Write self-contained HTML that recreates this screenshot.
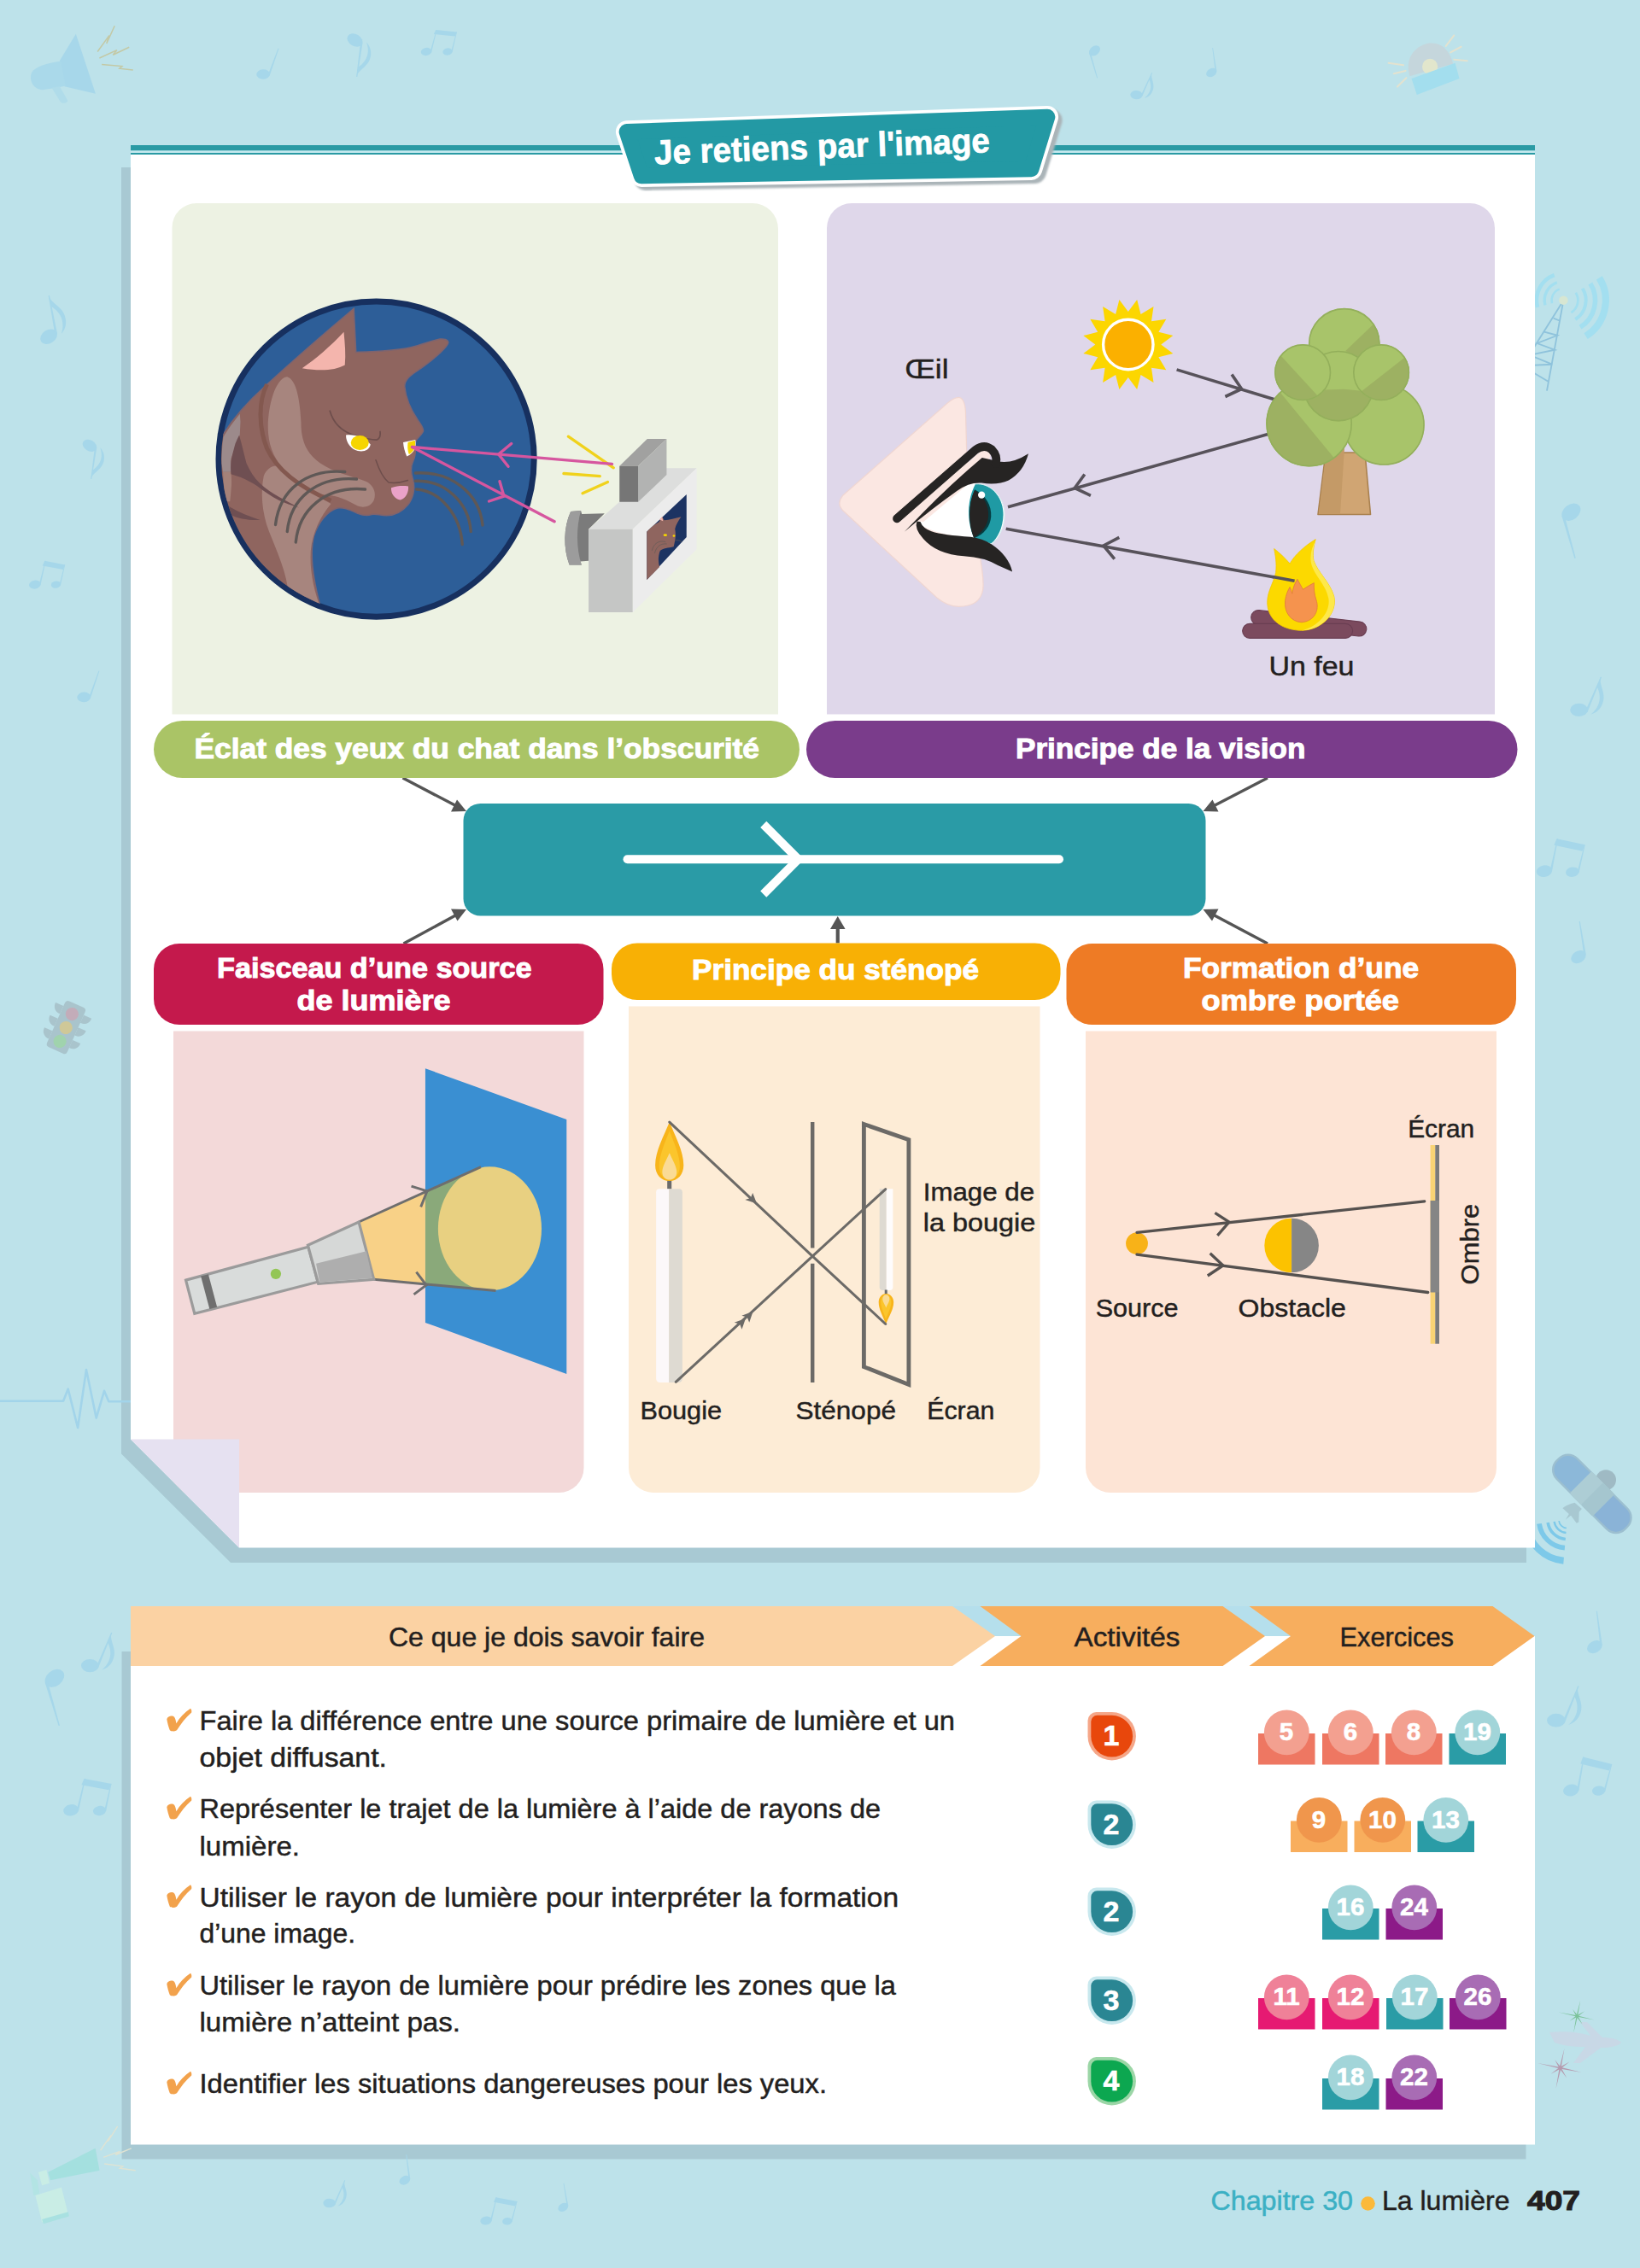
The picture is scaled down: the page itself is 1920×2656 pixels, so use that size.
<!DOCTYPE html>
<html lang="fr">
<head>
<meta charset="utf-8">
<title>Je retiens par l'image - La lumière</title>
<style>
html,body{margin:0;padding:0;}
body{width:1920px;height:2656px;background:#bde2ea;position:relative;overflow:hidden;font-family:"Liberation Sans",sans-serif;}
svg{position:absolute;left:0;top:0;display:block;}
svg text{font-family:"Liberation Sans",sans-serif;}
.t{fill:#231f20;}
.w{fill:#fff;font-weight:bold;}
#pills text{stroke:#fff;stroke-width:1px;}
.t{stroke:#231f20;stroke-width:0.45px;}
#table .w{stroke:#fff;stroke-width:0.6px;}
</style>
</head>
<body>
<svg width="1920" height="2656" viewBox="0 0 1920 2656">
<!-- ===== shadows ===== -->
<polygon points="142,196 1787,196 1787,1830 270,1830 142,1702.5" fill="#a8c9d3"/>
<polygon points="142.5,1934 1786.5,1934 1786.5,2528.5 142.5,2528.5" fill="#a8c9d3"/>
<!-- ===== background decorations ===== -->
<g id="deco">
<g transform="translate(308.1,87.0) rotate(19.4) scale(1.065)" fill="#a6d7ea"><ellipse cx="0" cy="0" rx="7.4" ry="5.4" transform="rotate(-22)"/><polygon points="5.2,-1 7.2,-1 6.9,-32.4 6,-32.4"/></g>
<g transform="translate(415.5,47.0) rotate(188.3) scale(-1.304,1.304)" fill="#a6d7ea"><ellipse cx="0" cy="0" rx="7.4" ry="5.4" transform="rotate(-22)"/><polygon points="5.2,-1 7.2,-1 6.9,-32.4 6,-32.4"/><path d="M6,-32.4 C7.5,-24.4 17,-21.4 16,-10.4 C15.6,-5.4 13,-2.4 10.5,-0.4 C14.5,-7.4 14.5,-16.4 6.6,-23.4 Z"/></g>
<g transform="translate(499.0,60.5) rotate(14.2) scale(0.854)" fill="#a6d7ea"><ellipse cx="0" cy="0" rx="7.4" ry="5.4" transform="rotate(-22)"/><polygon points="5.2,-1 7.2,-1 6.9,-32.4 6,-32.4"/></g><g transform="translate(524.0,60.5) rotate(13.5) scale(0.766)" fill="#a6d7ea"><ellipse cx="0" cy="0" rx="7.4" ry="5.4" transform="rotate(-22)"/><polygon points="5.2,-1 7.2,-1 6.9,-32.4 6,-32.4"/></g><polygon points="510.2,35.0 535.1,37.5 532.8,42.6 507.8,40.1" fill="#a6d7ea"/>
<g transform="translate(1281.5,59.3) rotate(163.1) scale(0.972)" fill="#a6d7ea"><ellipse cx="0" cy="0" rx="7.4" ry="5.4" transform="rotate(-22)"/><polygon points="5.2,-1 7.2,-1 6.9,-32.4 6,-32.4"/></g>
<g transform="translate(1330.4,111.1) rotate(23.9) scale(0.964)" fill="#a6d7ea"><ellipse cx="0" cy="0" rx="7.4" ry="5.4" transform="rotate(-22)"/><polygon points="5.2,-1 7.2,-1 6.9,-32.4 6,-32.4"/><path d="M6,-32.4 C7.5,-24.4 17,-21.4 16,-10.4 C15.6,-5.4 13,-2.4 10.5,-0.4 C14.5,-7.4 14.5,-16.4 6.6,-23.4 Z"/></g>
<g transform="translate(1418.3,85.0) rotate(-8.6) scale(0.880)" fill="#a6d7ea"><ellipse cx="0" cy="0" rx="7.4" ry="5.4" transform="rotate(-22)"/><polygon points="5.2,-1 7.2,-1 6.9,-32.4 6,-32.4"/></g>
<g transform="translate(57.1,394.2) rotate(-11.0) scale(1.452)" fill="#a6d7ea"><ellipse cx="0" cy="0" rx="7.4" ry="5.4" transform="rotate(-22)"/><polygon points="5.2,-1 7.2,-1 6.9,-32.4 6,-32.4"/><path d="M6,-32.4 C7.5,-24.4 17,-21.4 16,-10.4 C15.6,-5.4 13,-2.4 10.5,-0.4 C14.5,-7.4 14.5,-16.4 6.6,-23.4 Z"/></g>
<g transform="translate(105.0,521.8) rotate(188.7) scale(-1.189,1.189)" fill="#a6d7ea"><ellipse cx="0" cy="0" rx="7.4" ry="5.4" transform="rotate(-22)"/><polygon points="5.2,-1 7.2,-1 6.9,-32.4 6,-32.4"/><path d="M6,-32.4 C7.5,-24.4 17,-21.4 16,-10.4 C15.6,-5.4 13,-2.4 10.5,-0.4 C14.5,-7.4 14.5,-16.4 6.6,-23.4 Z"/></g>
<g transform="translate(40.8,684.6) rotate(12.9) scale(0.921)" fill="#a6d7ea"><ellipse cx="0" cy="0" rx="7.4" ry="5.4" transform="rotate(-22)"/><polygon points="5.2,-1 7.2,-1 6.9,-32.4 6,-32.4"/></g><g transform="translate(65.5,684.6) rotate(12.7) scale(0.768)" fill="#a6d7ea"><ellipse cx="0" cy="0" rx="7.4" ry="5.4" transform="rotate(-22)"/><polygon points="5.2,-1 7.2,-1 6.9,-32.4 6,-32.4"/></g><polygon points="52.3,656.8 76.3,661.4 73.9,667.0 49.8,662.4" fill="#a6d7ea"/>
<g transform="translate(98.2,816.4) rotate(18.7) scale(1.075)" fill="#a6d7ea"><ellipse cx="0" cy="0" rx="7.4" ry="5.4" transform="rotate(-22)"/><polygon points="5.2,-1 7.2,-1 6.9,-32.4 6,-32.4"/></g>
<g transform="translate(105.3,1950.6) rotate(22.2) scale(1.399)" fill="#a6d7ea"><ellipse cx="0" cy="0" rx="7.4" ry="5.4" transform="rotate(-22)"/><polygon points="5.2,-1 7.2,-1 6.9,-32.4 6,-32.4"/><path d="M6,-32.4 C7.5,-24.4 17,-21.4 16,-10.4 C15.6,-5.4 13,-2.4 10.5,-0.4 C14.5,-7.4 14.5,-16.4 6.6,-23.4 Z"/></g>
<g transform="translate(63.9,1965.3) rotate(163.2) scale(1.690)" fill="#a6d7ea"><ellipse cx="0" cy="0" rx="7.4" ry="5.4" transform="rotate(-22)"/><polygon points="5.2,-1 7.2,-1 6.9,-32.4 6,-32.4"/></g>
<g transform="translate(83.2,2119.8) rotate(12.7) scale(1.221)" fill="#a6d7ea"><ellipse cx="0" cy="0" rx="7.4" ry="5.4" transform="rotate(-22)"/><polygon points="5.2,-1 7.2,-1 6.9,-32.4 6,-32.4"/></g><g transform="translate(116.6,2120.5) rotate(11.8) scale(1.039)" fill="#a6d7ea"><ellipse cx="0" cy="0" rx="7.4" ry="5.4" transform="rotate(-22)"/><polygon points="5.2,-1 7.2,-1 6.9,-32.4 6,-32.4"/></g><polygon points="98.6,2082.9 130.5,2088.9 127.4,2096.3 95.4,2090.3" fill="#a6d7ea"/>
<g transform="translate(385.6,2580.0) rotate(23.0) scale(0.980)" fill="#a6d7ea"><ellipse cx="0" cy="0" rx="7.4" ry="5.4" transform="rotate(-22)"/><polygon points="5.2,-1 7.2,-1 6.9,-32.4 6,-32.4"/><path d="M6,-32.4 C7.5,-24.4 17,-21.4 16,-10.4 C15.6,-5.4 13,-2.4 10.5,-0.4 C14.5,-7.4 14.5,-16.4 6.6,-23.4 Z"/></g>
<g transform="translate(473.9,2553.2) rotate(-7.8) scale(0.911)" fill="#a6d7ea"><ellipse cx="0" cy="0" rx="7.4" ry="5.4" transform="rotate(-22)"/><polygon points="5.2,-1 7.2,-1 6.9,-32.4 6,-32.4"/></g>
<g transform="translate(569.0,2600.5) rotate(13.1) scale(0.906)" fill="#a6d7ea"><ellipse cx="0" cy="0" rx="7.4" ry="5.4" transform="rotate(-22)"/><polygon points="5.2,-1 7.2,-1 6.9,-32.4 6,-32.4"/></g><g transform="translate(593.9,2601.2) rotate(14.8) scale(0.781)" fill="#a6d7ea"><ellipse cx="0" cy="0" rx="7.4" ry="5.4" transform="rotate(-22)"/><polygon points="5.2,-1 7.2,-1 6.9,-32.4 6,-32.4"/></g><polygon points="580.4,2573.2 605.7,2578.0 603.1,2583.4 578.0,2578.7" fill="#a6d7ea"/>
<g transform="translate(659.3,2584.9) rotate(-10.0) scale(0.858)" fill="#a6d7ea"><ellipse cx="0" cy="0" rx="7.4" ry="5.4" transform="rotate(-22)"/><polygon points="5.2,-1 7.2,-1 6.9,-32.4 6,-32.4"/></g>
<g transform="translate(1839.4,599.7) rotate(163.8) scale(1.643)" fill="#a6d7ea"><ellipse cx="0" cy="0" rx="7.4" ry="5.4" transform="rotate(-22)"/><polygon points="5.2,-1 7.2,-1 6.9,-32.4 6,-32.4"/></g>
<g transform="translate(1848.6,831.4) rotate(22.6) scale(1.408)" fill="#a6d7ea"><ellipse cx="0" cy="0" rx="7.4" ry="5.4" transform="rotate(-22)"/><polygon points="5.2,-1 7.2,-1 6.9,-32.4 6,-32.4"/><path d="M6,-32.4 C7.5,-24.4 17,-21.4 16,-10.4 C15.6,-5.4 13,-2.4 10.5,-0.4 C14.5,-7.4 14.5,-16.4 6.6,-23.4 Z"/></g>
<g transform="translate(1807.9,1020.2) rotate(11.1) scale(1.242)" fill="#a6d7ea"><ellipse cx="0" cy="0" rx="7.4" ry="5.4" transform="rotate(-22)"/><polygon points="5.2,-1 7.2,-1 6.9,-32.4 6,-32.4"/></g><g transform="translate(1840.9,1021.2) rotate(13.0) scale(1.058)" fill="#a6d7ea"><ellipse cx="0" cy="0" rx="7.4" ry="5.4" transform="rotate(-22)"/><polygon points="5.2,-1 7.2,-1 6.9,-32.4 6,-32.4"/></g><polygon points="1822.5,982.2 1855.7,989.3 1852.4,996.8 1819.4,989.8" fill="#a6d7ea"/>
<g transform="translate(1848.0,1120.6) rotate(-9.6) scale(1.264)" fill="#a6d7ea"><ellipse cx="0" cy="0" rx="7.4" ry="5.4" transform="rotate(-22)"/><polygon points="5.2,-1 7.2,-1 6.9,-32.4 6,-32.4"/></g>
<g transform="translate(1866.9,1928.6) rotate(-7.9) scale(1.269)" fill="#a6d7ea"><ellipse cx="0" cy="0" rx="7.4" ry="5.4" transform="rotate(-22)"/><polygon points="5.2,-1 7.2,-1 6.9,-32.4 6,-32.4"/></g>
<g transform="translate(1821.8,2014.7) rotate(21.7) scale(1.454)" fill="#a6d7ea"><ellipse cx="0" cy="0" rx="7.4" ry="5.4" transform="rotate(-22)"/><polygon points="5.2,-1 7.2,-1 6.9,-32.4 6,-32.4"/><path d="M6,-32.4 C7.5,-24.4 17,-21.4 16,-10.4 C15.6,-5.4 13,-2.4 10.5,-0.4 C14.5,-7.4 14.5,-16.4 6.6,-23.4 Z"/></g>
<g transform="translate(1839.3,2096.5) rotate(9.7) scale(1.260)" fill="#a6d7ea"><ellipse cx="0" cy="0" rx="7.4" ry="5.4" transform="rotate(-22)"/><polygon points="5.2,-1 7.2,-1 6.9,-32.4 6,-32.4"/></g><g transform="translate(1871.7,2097.1) rotate(14.7) scale(1.046)" fill="#a6d7ea"><ellipse cx="0" cy="0" rx="7.4" ry="5.4" transform="rotate(-22)"/><polygon points="5.2,-1 7.2,-1 6.9,-32.4 6,-32.4"/></g><polygon points="1853.2,2057.6 1887.3,2066.0 1883.7,2073.5 1850.3,2065.4" fill="#a6d7ea"/>
<g transform="scale(0.37807)">
<path d="M185,188 L235,105 L296,290 L200,268 Z" fill="#a7d7ea"/>
<path d="M188,190 C150,195 110,205 98,225 C88,250 105,280 135,278 C160,275 185,270 203,266 Z" fill="#aad9ea"/>
<path d="M160,272 L185,268 L210,312 C205,322 190,322 185,312 Z" fill="#b0dcea"/>
<g fill="none" stroke="#c3c9a6" stroke-width="4" stroke-linejoin="miter"><polyline points="355,80 330,135 338,110 302,160"/><polyline points="400,146 350,170 362,155 308,180"/><polyline points="412,217 370,212 378,205 315,200"/></g>
</g>
<g transform="translate(1240,0) scale(0.41463)">
<path d="M990,215 C975,170 1000,130 1045,122 C1085,118 1105,150 1112,180 Z" fill="#c5d6dc"/>
<circle cx="1047" cy="188" r="22" fill="#e2e6cc"/>
<polygon points="995,222 1118,178 1130,222 1010,268" fill="#a3deee"/>
<g stroke="#e3e2cf" stroke-width="5" stroke-linecap="round"><line x1="930" y1="178" x2="972" y2="184"/><line x1="945" y1="208" x2="978" y2="200"/><line x1="955" y1="245" x2="980" y2="220"/><line x1="1092" y1="130" x2="1115" y2="100"/><line x1="1105" y1="148" x2="1135" y2="132"/><line x1="1115" y1="168" x2="1152" y2="172"/></g>
</g>
<g transform="translate(77.2,1203.5) rotate(24)">
<g fill="#a9c4cc"><rect x="-13" y="-30" width="26" height="59" rx="4"/><path d="M-13,-22 h-10 a9,9 0 0 0 10,10 z M-13,-6 h-10 a9,9 0 0 0 10,10 z M-13,10 h-10 a9,9 0 0 0 10,10 z M13,-22 h10 a9,9 0 0 1 -10,10 z M13,-6 h10 a9,9 0 0 1 -10,10 z M13,10 h10 a9,9 0 0 1 -10,10 z"/></g>
<circle cx="0" cy="-17.5" r="7.6" fill="#c3acb9"/><circle cx="0" cy="0" r="7.6" fill="#cfc898"/><circle cx="0" cy="17.5" r="7.6" fill="#a0d3ad"/>
</g>
<polyline points="0,1640.8 74.1,1640.8 79.7,1626.6 91.1,1672 101,1604.1 112.7,1660.6 122,1628.8 127.3,1641.2 153,1641.2" fill="none" stroke="#a2d4ea" stroke-width="2.6" stroke-linejoin="round"/>
<g transform="translate(1760,280) scale(0.30888)">
<g fill="none" stroke="#8fc3dc" stroke-width="6"><polyline points="60,500 228,232 165,575"/><line x1="190" y1="300" x2="215" y2="310"/><polyline points="155,352 205,365 128,395 195,420 100,440 185,475 70,480 170,540"/></g>
<circle cx="228" cy="232" r="17" fill="#d7e6d2"/>
<g fill="none" stroke="#a3dff0">
<path d="M274.6,202.9 A55,55 0 0 1 257.1,278.6" stroke-width="9"/>
<path d="M300.1,187.0 A85,85 0 0 1 273.0,304.1" stroke-width="13"/>
<path d="M329.8,168.4 A120,120 0 0 1 291.6,333.8" stroke-width="18"/>
<path d="M363.7,147.2 A160,160 0 0 1 312.8,367.7" stroke-width="26"/>
<path d="M184.5,243.6 A45,45 0 0 1 212.6,189.7" stroke-width="8"/>
<path d="M158.5,250.6 A72,72 0 0 1 203.4,164.3" stroke-width="11"/>
<path d="M129.5,258.4 A102,102 0 0 1 193.1,136.2" stroke-width="15"/>
</g></g>
<g transform="translate(1780,1680) scale(0.085368)">
<circle cx="1172" cy="622" r="140" fill="#9fbac4"/>
<g transform="translate(982,812) rotate(45)"><rect x="-676" y="-212" width="1352" height="424" rx="190" fill="#9cbfd0"/><rect x="-648" y="-184" width="1296" height="368" rx="165" fill="#8cb8d9"/><rect x="0" y="-184" width="648" height="368" rx="165" fill="#88aed6" opacity="0.55"/><rect x="-222" y="-214" width="444" height="428" rx="26" fill="#adcdd5"/><rect x="0" y="-214" width="222" height="428" rx="20" fill="#a5c6cf"/></g>
<path d="M745,935 L842,1020 L805,1060 L800,1200 L770,1215 L692,1110 L640,1150 L618,1172 L665,1090 L580,1010 C620,970 690,950 745,935 Z" fill="#a8c8d1"/>
<g fill="none" stroke="#7dc9e9">
<path d="M528.1,1184.0 A115,115 0 0 0 632.0,1282.6" stroke-width="20"/>
<path d="M463.8,1193.1 A180,180 0 0 0 626.3,1347.3" stroke-width="27"/>
<path d="M376.6,1205.3 A268,268 0 0 0 618.6,1435.0" stroke-width="42"/>
<path d="M257.8,1222.0 A388,388 0 0 0 608.2,1554.5" stroke-width="68"/>
<path d="M82.5,1246.6 A565,565 0 0 0 592.8,1730.9" stroke-width="92"/>
</g></g>
<path d="M1814,2380 C1830,2378 1850,2380 1862,2384 L1850,2368 L1858,2368 L1876,2386 C1885,2386 1895,2388 1898,2392 C1895,2396 1885,2398 1874,2398 L1850,2416 L1842,2416 L1856,2397 C1840,2397 1828,2395 1820,2392 L1814,2380 Z" fill="#c8d8e6"/>
<polygon points="1866.8,2365.4 1847.9,2362.1 1852.6,2370.7 1846.6,2362.9 1842.2,2380.5 1845.2,2362.6 1837.5,2366.7 1844.4,2361.3 1824.7,2356.4 1844.7,2359.9 1841.2,2353.1 1846.0,2359.1 1850.2,2342.5 1847.4,2359.4 1855.1,2355.3 1848.2,2360.7" fill="#7cc39a"/>
<polygon points="1852.0,2427.1 1828.5,2423.0 1834.4,2433.7 1827.0,2424.0 1821.5,2445.9 1825.3,2423.6 1815.7,2428.8 1824.3,2422.1 1799.9,2416.0 1824.7,2420.4 1820.2,2411.9 1826.2,2419.4 1831.5,2398.8 1827.9,2419.8 1837.5,2414.6 1828.9,2421.3" fill="#b59aae"/>
<g transform="translate(0,1860) scale(0.35106)">
<polygon points="160,1948 318,1868 332,1942 168,1975" fill="#a4e0df"/>
<path d="M118,2025 L205,1998 L228,2090 L140,2115 Z" fill="#c9ede5"/><path d="M128,1948 L155,1940 L165,1985 L140,1992 Z" fill="#c9ede5"/><path d="M100,1950 L125,1975 L132,2020 L112,2025 Z" fill="#b3e4e4"/><path d="M140,2105 L228,2080 L230,2095 L145,2120 Z" fill="#a9e1e1"/>
<g fill="none" stroke="#dfe3d3" stroke-width="4"><polyline points="392,1795 360,1845 370,1825 335,1875"/><polyline points="438,1868 385,1890 400,1878 345,1898"/><polyline points="452,1942 400,1935 410,1928 348,1920"/></g>
</g>
</g>
<!-- ===== main card ===== -->
<g id="card">
<defs><clipPath id="cardclip"><polygon points="153,178 1797,178 1797,1812.5 280,1812.5 153,1685.5"/></clipPath></defs>
<polygon points="153,178 1797,178 1797,1812.5 280,1812.5 153,1685.5" fill="#ffffff"/>
<rect x="153" y="170" width="1644" height="6.5" fill="#2a9aa4"/>
<rect x="153" y="176.5" width="1644" height="2.5" fill="#c5e9ef"/>
<rect x="153" y="179" width="1644" height="2" fill="#2a9aa4"/>
<!-- panels -->
<path d="M230,238 H881 a30,30 0 0 1 30,30 V836.5 H201.5 V266.5 a28.5,28.5 0 0 1 28.5,-28.5 Z" fill="#edf2e3"/>
<path d="M997,238 H1721 a29,29 0 0 1 29,29 V836.5 H968 V267 a29,29 0 0 1 29,-29 Z" fill="#dfd7ea"/>
<path clip-path="url(#cardclip)" d="M203,1207.5 H683.5 V1719 a29,29 0 0 1 -29,29 H203 Z" fill="#f3d9d9"/>
<path d="M736,1178.5 H1217.5 V1719 a29,29 0 0 1 -29,29 H765 a29,29 0 0 1 -29,-29 Z" fill="#fdecd6"/>
<path d="M1271,1207.5 H1752 V1719 a29,29 0 0 1 -29,29 H1300 a29,29 0 0 1 -29,-29 Z" fill="#fde4d5"/>
<!-- fold -->
<polygon points="153,1685.5 280,1685.5 280,1812.5" fill="#e6e1f1"/>
</g>
<!-- ===== center teal box ===== -->
<g id="center">
<rect x="542.5" y="941" width="869" height="131.5" rx="20" fill="#2a9ba6"/>
<line x1="734.5" y1="1006.25" x2="1240" y2="1006.25" stroke="#fff" stroke-width="10" stroke-linecap="round"/>
<polyline points="893.75,965.4 934.6,1006.25 893.75,1047.1" fill="none" stroke="#fff" stroke-width="10"/>
</g>
<!-- connector arrows -->
<g id="conn" stroke="#555555" stroke-width="3.5" fill="#555555">
<line x1="471.5" y1="911" x2="536" y2="944.8"/><polygon points="546,950 528,950.5 535,936.5" stroke="none"/>
<line x1="1484" y1="911" x2="1419" y2="944.8"/><polygon points="1408.5,950 1426.5,950.5 1419.5,936.5" stroke="none"/>
<line x1="472.5" y1="1105" x2="536" y2="1070.5"/><polygon points="546,1065 528,1064.5 535.5,1078.5" stroke="none"/>
<line x1="1484" y1="1105" x2="1419" y2="1070.5"/><polygon points="1408.5,1065 1426.5,1064.5 1419,1078.5" stroke="none"/>
<line x1="980.75" y1="1104.5" x2="980.75" y2="1086" stroke-width="4.2"/><polygon points="980.75,1073 989.6,1088 972,1088" stroke="none"/>
</g>
<!-- ===== pills ===== -->
<g id="pills">
<rect x="180" y="844" width="756" height="67" rx="33.5" fill="#aac466"/>
<rect x="944" y="844" width="832.5" height="67" rx="33.5" fill="#7a3c8b"/>
<rect x="180" y="1105" width="526.5" height="95" rx="30" fill="#c4194c"/>
<rect x="716" y="1104.5" width="525.5" height="66.5" rx="30" fill="#f8b005"/>
<rect x="1248.5" y="1105" width="526.5" height="95" rx="30" fill="#ee7b25"/>
<text class="w" x="227.5" y="888" font-size="33.5" textLength="661.5" lengthAdjust="spacingAndGlyphs">Éclat des yeux du chat dans l’obscurité</text>
<text class="w" x="1189" y="888" font-size="33.5" textLength="339.5" lengthAdjust="spacingAndGlyphs">Principe de la vision</text>
<text class="w" x="254" y="1145" font-size="33.5" textLength="368.5" lengthAdjust="spacingAndGlyphs">Faisceau d’une source</text>
<text class="w" x="347.5" y="1183" font-size="33.5" textLength="180" lengthAdjust="spacingAndGlyphs">de lumière</text>
<text class="w" x="810" y="1147" font-size="33.5" textLength="336" lengthAdjust="spacingAndGlyphs">Principe du sténopé</text>
<text class="w" x="1385" y="1145" font-size="33.5" textLength="276" lengthAdjust="spacingAndGlyphs">Formation d’une</text>
<text class="w" x="1406.5" y="1183" font-size="33.5" textLength="231.5" lengthAdjust="spacingAndGlyphs">ombre portée</text>
</g>
<!-- ===== title badge ===== -->
<g id="title" stroke-linejoin="round">
<defs><filter id="tsh" x="-5%" y="-20%" width="110%" height="140%"><feGaussianBlur stdDeviation="1.3"/></filter></defs>
<polygon points="738.4,158.3 1230.6,140.9 1211.8,201.9 755.5,209.9" fill="#aab4b8" stroke="#aab4b8" stroke-width="26" filter="url(#tsh)"/>
<polygon points="733.9,154.3 1226.1,136.9 1207.3,197.9 751,205.9" fill="#ffffff" stroke="#ffffff" stroke-width="26"/>
<polygon points="733.9,154.3 1226.1,136.9 1207.3,197.9 751,205.9" fill="#2399a4" stroke="#2399a4" stroke-width="18.5"/>
<text class="w" transform="translate(766.5,192.5) rotate(-2.1)" x="0" y="0" font-size="40.5" textLength="393" lengthAdjust="spacingAndGlyphs" stroke="#ffffff" stroke-width="0.7">Je retiens par l'image</text>
</g>
<!-- ===== table ===== -->
<g id="table">
<rect x="153" y="1916" width="1644" height="595.5" fill="#ffffff"/>
<polygon points="1115,1881 1147.5,1881 1195.5,1916 1165,1916" fill="#b5dfec"/>
<polygon points="1431.5,1881 1462.5,1881 1511,1916 1481,1916" fill="#b5dfec"/>
<polygon points="153,1881 1115,1881 1165,1916 1115,1951 153,1951" fill="#fbd2a3"/>
<polygon points="1147.5,1881 1431.5,1881 1481,1916 1431.5,1951 1147.5,1951 1195.5,1916" fill="#f7ae5e"/>
<polygon points="1462.5,1881 1747.5,1881 1796.5,1916 1747.5,1951 1462.5,1951 1511,1916" fill="#f7ae5e"/>
<text class="t" x="455" y="1927.5" font-size="30.5" textLength="370" lengthAdjust="spacingAndGlyphs">Ce que je dois savoir faire</text>
<text class="t" x="1257.5" y="1927.5" font-size="30.5" textLength="124" lengthAdjust="spacingAndGlyphs">Activités</text>
<text class="t" x="1568.5" y="1927.5" font-size="30.5" textLength="133.5" lengthAdjust="spacingAndGlyphs">Exercices</text>
<text class="t" x="233.5" y="2026" font-size="31" textLength="884.5" lengthAdjust="spacingAndGlyphs">Faire la différence entre une source primaire de lumière et un</text>
<text class="t" x="233.5" y="2069" font-size="31" textLength="219.5" lengthAdjust="spacingAndGlyphs">objet diffusant.</text>
<text class="t" x="233.5" y="2129" font-size="31" textLength="797.5" lengthAdjust="spacingAndGlyphs">Représenter le trajet de la lumière à l’aide de rayons de</text>
<text class="t" x="233.5" y="2172.5" font-size="31" textLength="117.5" lengthAdjust="spacingAndGlyphs">lumière.</text>
<text class="t" x="233.5" y="2232.5" font-size="31" textLength="818.5" lengthAdjust="spacingAndGlyphs">Utiliser le rayon de lumière pour interpréter la formation</text>
<text class="t" x="233.5" y="2275" font-size="31" textLength="182.5" lengthAdjust="spacingAndGlyphs">d’une image.</text>
<text class="t" x="233.5" y="2336" font-size="31" textLength="815.5" lengthAdjust="spacingAndGlyphs">Utiliser le rayon de lumière pour prédire les zones que la</text>
<text class="t" x="233.5" y="2379" font-size="31" textLength="305.5" lengthAdjust="spacingAndGlyphs">lumière n’atteint pas.</text>
<text class="t" x="233.5" y="2451" font-size="31" textLength="734.5" lengthAdjust="spacingAndGlyphs">Identifier les situations dangereuses pour les yeux.</text>
<path transform="translate(195,2001)" d="M0.3,12.2 C1.5,8.6 6.8,7.4 9.2,10 C10.4,12 11,14.6 11.4,17.2 C15.2,10.6 21,4.4 28,-0.2 C29.2,0.8 29.6,2.8 29.2,4.4 C22.2,10.2 16.8,17.8 12,25.2 C9.4,26.8 5.6,26.8 3.8,25.2 C2.4,21.2 0.9,16.6 0.3,12.2 Z" fill="#f2a24c"/>
<path transform="translate(195,2104)" d="M0.3,12.2 C1.5,8.6 6.8,7.4 9.2,10 C10.4,12 11,14.6 11.4,17.2 C15.2,10.6 21,4.4 28,-0.2 C29.2,0.8 29.6,2.8 29.2,4.4 C22.2,10.2 16.8,17.8 12,25.2 C9.4,26.8 5.6,26.8 3.8,25.2 C2.4,21.2 0.9,16.6 0.3,12.2 Z" fill="#f2a24c"/>
<path transform="translate(195,2207.5)" d="M0.3,12.2 C1.5,8.6 6.8,7.4 9.2,10 C10.4,12 11,14.6 11.4,17.2 C15.2,10.6 21,4.4 28,-0.2 C29.2,0.8 29.6,2.8 29.2,4.4 C22.2,10.2 16.8,17.8 12,25.2 C9.4,26.8 5.6,26.8 3.8,25.2 C2.4,21.2 0.9,16.6 0.3,12.2 Z" fill="#f2a24c"/>
<path transform="translate(195,2311)" d="M0.3,12.2 C1.5,8.6 6.8,7.4 9.2,10 C10.4,12 11,14.6 11.4,17.2 C15.2,10.6 21,4.4 28,-0.2 C29.2,0.8 29.6,2.8 29.2,4.4 C22.2,10.2 16.8,17.8 12,25.2 C9.4,26.8 5.6,26.8 3.8,25.2 C2.4,21.2 0.9,16.6 0.3,12.2 Z" fill="#f2a24c"/>
<path transform="translate(195,2426)" d="M0.3,12.2 C1.5,8.6 6.8,7.4 9.2,10 C10.4,12 11,14.6 11.4,17.2 C15.2,10.6 21,4.4 28,-0.2 C29.2,0.8 29.6,2.8 29.2,4.4 C22.2,10.2 16.8,17.8 12,25.2 C9.4,26.8 5.6,26.8 3.8,25.2 C2.4,21.2 0.9,16.6 0.3,12.2 Z" fill="#f2a24c"/>
<path transform="translate(1273.5,2005)" d="M10,0 H28.2 A28.2,28.2 0 1 1 0,28.2 V10 A10,10 0 0 1 10,0 Z" fill="#f5a688"/>
<path transform="translate(1273.5,2005)" d="M11,3.8 H28.2 A24.4,24.4 0 1 1 3.8,28.2 V11 A7.2,7.2 0 0 1 11,3.8 Z" fill="#e8470c"/>
<text class="w" x="1301" y="2044.0" font-size="34" text-anchor="middle">1</text>
<path transform="translate(1273.5,2108.5)" d="M10,0 H28.2 A28.2,28.2 0 1 1 0,28.2 V10 A10,10 0 0 1 10,0 Z" fill="#c8e8ee"/>
<path transform="translate(1273.5,2108.5)" d="M11,3.8 H28.2 A24.4,24.4 0 1 1 3.8,28.2 V11 A7.2,7.2 0 0 1 11,3.8 Z" fill="#2a8693"/>
<text class="w" x="1301" y="2147.5" font-size="34" text-anchor="middle">2</text>
<path transform="translate(1273.5,2210.5)" d="M10,0 H28.2 A28.2,28.2 0 1 1 0,28.2 V10 A10,10 0 0 1 10,0 Z" fill="#c8e8ee"/>
<path transform="translate(1273.5,2210.5)" d="M11,3.8 H28.2 A24.4,24.4 0 1 1 3.8,28.2 V11 A7.2,7.2 0 0 1 11,3.8 Z" fill="#2a8693"/>
<text class="w" x="1301" y="2249.5" font-size="34" text-anchor="middle">2</text>
<path transform="translate(1273.5,2314.5)" d="M10,0 H28.2 A28.2,28.2 0 1 1 0,28.2 V10 A10,10 0 0 1 10,0 Z" fill="#c8e8ee"/>
<path transform="translate(1273.5,2314.5)" d="M11,3.8 H28.2 A24.4,24.4 0 1 1 3.8,28.2 V11 A7.2,7.2 0 0 1 11,3.8 Z" fill="#2a8693"/>
<text class="w" x="1301" y="2353.5" font-size="34" text-anchor="middle">3</text>
<path transform="translate(1273.5,2409)" d="M10,0 H28.2 A28.2,28.2 0 1 1 0,28.2 V10 A10,10 0 0 1 10,0 Z" fill="#9bd6a6"/>
<path transform="translate(1273.5,2409)" d="M11,3.8 H28.2 A24.4,24.4 0 1 1 3.8,28.2 V11 A7.2,7.2 0 0 1 11,3.8 Z" fill="#0ca750"/>
<text class="w" x="1301" y="2448.0" font-size="34" text-anchor="middle">4</text>
<rect x="1473" y="2030" width="66.5" height="36.5" fill="#ee7762"/><circle cx="1506.3" cy="2028.8" r="26.4" fill="#f3a090"/>
<text class="w" x="1506" y="2038.3" font-size="29.5" text-anchor="middle">5</text>
<rect x="1548" y="2030" width="66.5" height="36.5" fill="#ee7762"/><circle cx="1581.3" cy="2028.8" r="26.4" fill="#f3a090"/>
<text class="w" x="1581" y="2038.3" font-size="29.5" text-anchor="middle">6</text>
<rect x="1622" y="2030" width="66.5" height="36.5" fill="#ee7762"/><circle cx="1655.3" cy="2028.8" r="26.4" fill="#f3a090"/>
<text class="w" x="1655" y="2038.3" font-size="29.5" text-anchor="middle">8</text>
<rect x="1696.5" y="2030" width="66.5" height="36.5" fill="#2a9ca6"/><circle cx="1729.8" cy="2028.8" r="26.4" fill="#a2d5d9"/>
<text class="w" x="1729.5" y="2038.3" font-size="29.5" text-anchor="middle">19</text>
<rect x="1511" y="2132.5" width="66.5" height="36.5" fill="#f8ae5d"/><circle cx="1544.3" cy="2131.3" r="26.4" fill="#f0964c"/>
<text class="w" x="1544" y="2140.8" font-size="29.5" text-anchor="middle">9</text>
<rect x="1585.5" y="2132.5" width="66.5" height="36.5" fill="#f8ae5d"/><circle cx="1618.8" cy="2131.3" r="26.4" fill="#f0964c"/>
<text class="w" x="1618.5" y="2140.8" font-size="29.5" text-anchor="middle">10</text>
<rect x="1659.5" y="2132.5" width="66.5" height="36.5" fill="#2a9ca6"/><circle cx="1692.8" cy="2131.3" r="26.4" fill="#a2d5d9"/>
<text class="w" x="1692.5" y="2140.8" font-size="29.5" text-anchor="middle">13</text>
<rect x="1548" y="2235" width="66.5" height="36.5" fill="#2a9ca6"/><circle cx="1581.3" cy="2233.8" r="26.4" fill="#a2d5d9"/>
<text class="w" x="1581" y="2243.3" font-size="29.5" text-anchor="middle">16</text>
<rect x="1622.5" y="2235" width="66.5" height="36.5" fill="#8c1a88"/><circle cx="1655.8" cy="2233.8" r="26.4" fill="#a86cb4"/>
<text class="w" x="1655.5" y="2243.3" font-size="29.5" text-anchor="middle">24</text>
<rect x="1473" y="2340" width="66.5" height="36.5" fill="#e61a72"/><circle cx="1506.3" cy="2338.8" r="26.4" fill="#ef8198"/>
<text class="w" x="1506" y="2348.3" font-size="29.5" text-anchor="middle">11</text>
<rect x="1548" y="2340" width="66.5" height="36.5" fill="#e61a72"/><circle cx="1581.3" cy="2338.8" r="26.4" fill="#ef8198"/>
<text class="w" x="1581" y="2348.3" font-size="29.5" text-anchor="middle">12</text>
<rect x="1623" y="2340" width="66.5" height="36.5" fill="#2a9ca6"/><circle cx="1656.3" cy="2338.8" r="26.4" fill="#a2d5d9"/>
<text class="w" x="1656" y="2348.3" font-size="29.5" text-anchor="middle">17</text>
<rect x="1697" y="2340" width="66.5" height="36.5" fill="#8c1a88"/><circle cx="1730.3" cy="2338.8" r="26.4" fill="#a86cb4"/>
<text class="w" x="1730" y="2348.3" font-size="29.5" text-anchor="middle">26</text>
<rect x="1548" y="2434" width="66.5" height="36.5" fill="#2a9ca6"/><circle cx="1581.3" cy="2432.8" r="26.4" fill="#a2d5d9"/>
<text class="w" x="1581" y="2442.3" font-size="29.5" text-anchor="middle">18</text>
<rect x="1622.5" y="2434" width="66.5" height="36.5" fill="#8c1a88"/><circle cx="1655.8" cy="2432.8" r="26.4" fill="#a86cb4"/>
<text class="w" x="1655.5" y="2442.3" font-size="29.5" text-anchor="middle">22</text>
</g>
<!-- ===== footer ===== -->
<g id="footer">
<text x="1417.5" y="2587.5" font-size="31.5" fill="#3bb0c4" stroke="#3bb0c4" stroke-width="0.5" textLength="166.5" lengthAdjust="spacingAndGlyphs">Chapitre 30</text>
<circle cx="1601.5" cy="2580.5" r="8.3" fill="#fbb93a"/>
<text class="t" x="1618" y="2587.5" font-size="31.5" textLength="149.5" lengthAdjust="spacingAndGlyphs">La lumière</text>
<text class="t" x="1788" y="2587.5" font-size="32" font-weight="bold" style="stroke-width:1.1px" textLength="62" lengthAdjust="spacingAndGlyphs">407</text>
</g>
<!-- ===== cat panel ===== -->
<g id="cat">
<defs><clipPath id="catclip"><circle cx="440.6" cy="537.6" r="181.6"/></clipPath></defs>
<circle cx="440.6" cy="537.6" r="184.6" fill="#2d5e98" stroke="#17305f" stroke-width="7"/>
<g clip-path="url(#catclip)">
<g transform="translate(240,340) scale(0.25)">
<!-- body/head -->
<path d="M697,85 L707,290 C760,288 880,285 960,268 C1020,255 1060,235 1100,228 C1135,225 1150,240 1130,262 C1100,300 1040,345 990,380 C960,400 935,420 935,450 C940,500 965,560 995,605 C1010,628 1025,645 1022,660 C1015,680 990,690 985,715 C985,745 990,770 975,800 C960,830 965,860 975,890 C985,930 975,975 950,1005 C925,1035 890,1055 850,1055 C820,1055 800,1045 780,1050 C760,1058 740,1055 715,1045 C680,1030 650,1015 620,1020 C570,1035 530,1090 510,1150 C490,1230 500,1330 540,1480 L300,1560 L40,1200 L60,720 C100,640 180,540 280,450 C400,340 560,200 697,85 Z" fill="#8f655f" stroke="#7d6470" stroke-width="6"/>
<!-- far left light band -->
<path d="M163,579 C130,620 105,655 86,687 C80,730 78,770 78,810 L84,851 L122,851 L122,789 C135,750 150,712 163,677 L166,615 Z" fill="#9c8a8b"/>
<path d="M84,851 L122,851 C124,880 125,900 124,912 C122,940 120,965 117,989 L96,989 C90,945 86,900 84,851 Z" fill="#a58279"/>
<!-- light cheek band -->
<path d="M385,405 C430,420 445,520 450,620 C450,700 470,760 540,810 C600,850 680,870 740,890 C790,905 805,950 790,985 C775,1015 740,1020 715,1010 C670,985 620,960 570,960 C500,955 440,910 380,850 C320,790 295,720 295,640 C295,540 330,410 385,405 Z" fill="#a7857e"/>
<!-- chest light band -->
<path d="M275,870 C290,830 330,810 360,830 C420,900 500,950 590,1000 C540,1060 505,1130 495,1220 C490,1300 505,1390 535,1470 L390,1420 C385,1330 340,1230 300,1130 C265,1040 260,940 275,870 Z" fill="#a7857e"/>
<!-- dark stripe -->
<path d="M160,679 C175,730 185,775 194,810 C212,850 232,880 255,902 C285,930 315,950 347,968 C380,985 410,1003 440,1018 C405,1008 375,996 347,984 C310,965 275,940 245,917 C220,900 195,888 168,876 L122,861 C120,840 120,820 122,800 C128,770 135,742 142,718 C148,703 154,690 160,679 Z" fill="#6f4f52"/>
<path d="M112,1012 C160,1040 210,1060 258,1076 C200,1078 150,1068 122,1052 Z" fill="#6f4f52"/>
<!-- neck outline dark -->
<path d="M290,440 C250,520 250,640 290,740 C340,850 460,930 590,985" fill="none" stroke="#83584f" stroke-width="20"/>
<!-- ear inner -->
<path d="M650,195 C655,250 660,300 655,350 C610,375 540,380 455,365 C520,320 590,260 650,195 Z" fill="#f4b5ad"/>
<!-- brow + cheek lines -->
<path d="M585,565 C600,620 640,660 700,680 C750,695 790,700 805,700 C818,695 822,680 820,662" fill="none" stroke="#6e4e4c" stroke-width="7" stroke-linecap="round"/>
<path d="M800,795 C815,840 835,880 860,900 C890,905 920,900 950,890" fill="none" stroke="#6e4e4c" stroke-width="6" stroke-linecap="round"/>
<!-- eyes -->
<path d="M660,678 C700,672 750,690 775,722 C770,748 745,758 715,752 C685,745 660,715 660,678 Z" fill="#ffffff"/>
<ellipse cx="725" cy="714" rx="42" ry="34" fill="#f6d500"/>
<path d="M928,712 L985,700 C990,730 985,760 945,778 C935,755 930,735 928,712 Z" fill="#ffffff"/>
<path d="M950,712 L983,703 C988,730 980,755 955,768 C948,750 948,730 950,712 Z" fill="#f6d500"/>
<!-- nose -->
<path d="M872,925 C900,915 930,915 952,918 C955,945 940,975 915,982 C890,978 870,955 872,925 Z" fill="#eaa2c8"/>
<!-- whiskers -->
<g fill="none" stroke="#5f5856" stroke-width="13.5" stroke-linecap="round">
<path d="M655,850 C480,835 350,930 330,1098"/>
<path d="M710,884 C520,868 400,980 385,1130"/>
<path d="M750,932 C560,915 440,1030 425,1180"/>
<path d="M985,856 C1150,845 1285,950 1300,1100"/>
<path d="M985,893 C1120,888 1235,990 1245,1130"/>
<path d="M990,932 C1100,940 1195,1050 1205,1190"/>
</g>
</g>
</g>
<!-- camera -->
<g transform="translate(600,480) scale(0.15854)">
<path d="M430,750 L505,745 L512,770 L680,765 L562,882 L562,1115 L500,1120 L510,1145 L420,1145 C375,1020 375,870 430,750 Z" fill="#7b7b7b"/>
<path d="M430,750 L505,745 C470,870 470,1020 510,1145 L420,1145 C375,1020 375,870 430,750 Z" fill="#9c9c9c"/>
<polygon points="562,882 888,882 1360,430 1072,430" fill="#dddedd"/>
<polygon points="562,882 888,882 888,1495 562,1495" fill="#c5c6c5"/>
<polygon points="888,882 1360,430 1360,1030 888,1495" fill="#ececec"/>
<polygon points="992,900 1285,625 1285,940 992,1255" fill="#1c3362"/>
<path d="M992,900 C1010,880 1040,850 1080,830 L1105,790 L1120,815 C1160,815 1200,800 1245,790 C1225,820 1205,850 1200,880 C1210,930 1200,970 1190,1010 C1150,1020 1110,1020 1090,1040 C1075,1080 1075,1120 1085,1160 L992,1255 Z" fill="#8f655f"/>
<path d="M1085,810 L1105,790 L1112,822 Z" fill="#f4b5ad"/>
<ellipse cx="1128" cy="925" rx="14" ry="9" fill="#f6d500"/><ellipse cx="1192" cy="930" rx="9" ry="8" fill="#f6d500"/>
<g fill="none" stroke="#5f5856" stroke-width="4"><path d="M1130,975 C1080,960 1040,990 1030,1040"/><path d="M1140,990 C1095,985 1060,1010 1050,1060"/><path d="M1200,965 C1220,960 1240,965 1250,975"/></g>
<polygon points="790,415 995,215 1138,215 928,415" fill="#a1a1a0"/>
<polygon points="928,415 1138,215 1138,480 928,680" fill="#b2b3b2"/>
<polygon points="790,415 928,415 928,680 790,680" fill="#767676"/>
<g fill="none" stroke="#f0d21c" stroke-width="21" stroke-linecap="round">
<line x1="412" y1="197" x2="746" y2="428"/><line x1="378" y1="470" x2="645" y2="490"/><line x1="517" y1="616" x2="703" y2="533"/>
</g>
</g>
<!-- pink rays -->
<g fill="none" stroke="#d6569f" stroke-width="3.4" stroke-linecap="round">
<line x1="482.5" y1="523.5" x2="716.5" y2="543.4"/>
<line x1="482.5" y1="523.5" x2="649.1" y2="610.8"/>
<polyline points="598.7,519.5 583.7,532 595,546.3"/>
<polyline points="585,563.7 590,581.2 572.5,587"/>
</g>
</g>
<!-- ===== vision panel ===== -->
<g id="vision">
<g fill="none" stroke="#57525a" stroke-width="3.6" stroke-linecap="butt">
<line x1="1377.6" y1="432.9" x2="1492" y2="467.8"/>
<polyline points="1442.1,438.4 1453.6,455.4 1434.4,464.5"/>
<line x1="1180" y1="593.8" x2="1486" y2="508.1"/>
<polyline points="1269.8,555.5 1258.2,571.5 1276.9,580.3"/>
<line x1="1177.7" y1="619.2" x2="1515.6" y2="680.2"/>
<polyline points="1310.3,629.4 1291.9,639 1304.8,654.6"/>
</g>
<polygon points="1331.2,351.0 1335.5,367.9 1350.5,359.0 1348.0,376.3 1365.3,373.8 1356.4,388.8 1373.3,393.1 1359.3,403.5 1373.3,413.9 1356.4,418.2 1365.3,433.2 1348.0,430.7 1350.5,448.0 1335.5,439.1 1331.2,456.0 1320.8,442.0 1310.4,456.0 1306.1,439.1 1291.1,448.0 1293.6,430.7 1276.3,433.2 1285.2,418.2 1268.3,413.9 1282.3,403.5 1268.3,393.1 1285.2,388.8 1276.3,373.8 1293.6,376.3 1291.1,359.0 1306.1,367.9 1310.4,351.0 1320.8,365.0" fill="#fcd600"/>
<circle cx="1320.8" cy="403.5" r="29.2" fill="#fbb000" stroke="#ffffff" stroke-width="3.4"/>
<g id="tree">
<polygon points="1543,602.5 1604.5,602.5 1598,530 1552,530" fill="#d0a573" stroke="#a9814f" stroke-width="1.6" stroke-linejoin="round"/>
<polygon points="1543.8,601.7 1569,601.7 1574,525 1552.6,530.5" fill="#c49a67"/>
<defs>
<clipPath id="tc_br"><circle cx="1620.4" cy="497.4" r="47.2"/></clipPath>
<clipPath id="tc_bl"><circle cx="1532.6" cy="496" r="50.2"/></clipPath>
<clipPath id="tc_tp"><circle cx="1573.8" cy="402.7" r="41.7"/></clipPath>
<clipPath id="tc_ce"><circle cx="1566.9" cy="452.1" r="41.2"/></clipPath>
<clipPath id="tc_lm"><circle cx="1525.2" cy="436.2" r="32.9"/></clipPath>
<clipPath id="tc_rm"><circle cx="1617.1" cy="436.2" r="32.9"/></clipPath>
</defs>
<circle cx="1620.4" cy="497.4" r="47.2" fill="#a8c46a"/>
<circle cx="1620.4" cy="497.4" r="46.6" fill="none" stroke="#93af5b" stroke-width="1.6"/>
<circle cx="1532.6" cy="496" r="50.2" fill="#a8c46a"/>
<polygon points="1498.3,459.0 1561.4,535.8 1524.4,577.0 1442.1,577.0 1442.1,459.0" fill="#9db162" clip-path="url(#tc_bl)"/>
<circle cx="1532.6" cy="496" r="49.6" fill="none" stroke="#93af5b" stroke-width="1.6"/>
<circle cx="1573.8" cy="402.7" r="41.7" fill="#a8c46a"/>
<polygon points="1608.1,379.4 1575.2,410.9 1634.2,445.2 1661.6,379.4" fill="#9db162" clip-path="url(#tc_tp)"/>
<circle cx="1573.8" cy="402.7" r="41.1" fill="none" stroke="#93af5b" stroke-width="1.6"/>
<circle cx="1566.9" cy="452.1" r="41.2" fill="#a8c46a"/>
<polygon points="1510.7,461.7 1543.6,456.8 1573.8,455.7 1606.7,459.0 1634.2,461.7 1634.2,522.1 1510.7,522.1" fill="#9db162" clip-path="url(#tc_ce)"/>
<circle cx="1566.9" cy="452.1" r="40.6" fill="none" stroke="#93af5b" stroke-width="1.6"/>
<circle cx="1525.2" cy="436.2" r="32.9" fill="#a8c46a"/>
<polygon points="1497.0,413.7 1542.2,463.1 1497.0,494.6 1442.1,467.2" fill="#9db162" clip-path="url(#tc_lm)"/>
<circle cx="1525.2" cy="436.2" r="32.3" fill="none" stroke="#93af5b" stroke-width="1.6"/>
<circle cx="1617.1" cy="436.2" r="32.9" fill="#a8c46a"/>
<polygon points="1643.8,419.2 1593.0,459.0 1634.2,494.6 1689.0,467.2" fill="#9db162" clip-path="url(#tc_rm)"/>
<circle cx="1617.1" cy="436.2" r="32.3" fill="none" stroke="#93af5b" stroke-width="1.6"/>
</g>
<g transform="translate(1200,580) scale(0.27439)">
<rect x="965" y="487" width="495" height="62" rx="31" transform="rotate(6.5 965 518)" fill="#7b4a5e" stroke="#6a3e52" stroke-width="4"/>
<rect x="928" y="548" width="470" height="62" rx="31" fill="#7b4a5e" stroke="#6a3e52" stroke-width="4"/>
<path d="M1180,577 C1110,575 1050,545 1036,480 C1025,420 1060,380 1070,330 C1075,290 1068,255 1063,228 C1085,245 1110,268 1130,292 C1150,255 1195,215 1240,188 C1232,215 1225,250 1232,280 C1250,330 1300,370 1318,430 C1335,500 1270,575 1180,577 Z" fill="#fcd900" stroke="#f3c800" stroke-width="3"/>
<path d="M1240,192 C1232,215 1225,250 1232,280 C1250,330 1300,370 1318,430 C1335,500 1270,575 1180,577 C1250,560 1305,500 1295,440 C1285,380 1230,340 1220,285 C1215,250 1225,220 1240,192 Z" fill="#fde84a"/>
<path d="M1180,542 C1135,540 1105,500 1110,450 C1113,425 1122,405 1130,392 C1135,402 1138,412 1140,420 C1143,395 1152,375 1162,358 C1170,372 1178,388 1186,402 C1200,392 1218,382 1233,374 C1232,400 1235,425 1242,445 C1258,490 1235,538 1180,542 Z" fill="#f5934e" stroke="#e17c3a" stroke-width="3"/>
</g>
<line x1="1490" y1="675.6" x2="1515.6" y2="680.2" stroke="#57525a" stroke-width="3.6"/>
<g transform="translate(970,440) scale(0.15854)">
<path d="M960,160 Q1003,160 1012,260 L1020,560 L1112,1300 Q1150,1500 1140,1580 Q1120,1705 960,1705 Q880,1705 800,1640 L110,1000 Q55,945 105,885 L880,200 Q930,160 960,160 Z" fill="#fbe7e2" stroke="#efd6d2" stroke-width="8"/>
<path d="M655,1085 C760,960 900,840 1060,795 C1200,780 1300,900 1300,1020 C1300,1120 1260,1200 1200,1245 L1060,1195 C900,1185 760,1160 655,1085 Z" fill="#ffffff"/>
<path d="M1085,800 C1200,790 1292,900 1290,1030 C1288,1120 1250,1200 1200,1240 L1075,1200 C1020,1080 1020,920 1085,800 Z" fill="#1f9aa4"/>
<path d="M1085,800 C1200,790 1300,900 1300,1030 C1298,1120 1260,1200 1205,1245" fill="none" stroke="#d6eef0" stroke-width="6"/>
<path d="M1080,840 C1160,880 1205,960 1200,1040 C1195,1110 1150,1170 1075,1200 C1030,1090 1030,950 1080,840 Z" fill="#053c41"/>
<path d="M1078,845 C1150,890 1185,960 1180,1040 C1175,1105 1135,1160 1072,1195 C1030,1090 1030,950 1078,845 Z" fill="#262423"/>
<circle cx="1130" cy="881" r="26" fill="#ffffff"/>
<path d="M600,1060 L1100,575 L1190,600 L1150,700 L700,1080 Z" fill="#fbe7e2"/>
<circle cx="1150" cy="590" r="45" fill="#fbe7e2"/>
<path d="M560,1152 L696,1013 Q906,798 1134,606 L1190,618 L1250,632 Q1350,655 1476,575 Q1440,710 1330,772 Q1250,810 1130,792 Q1040,785 950,850 Q760,985 560,1152 Z" fill="#262423"/>
<path d="M505,1055 L1085,548 Q1150,500 1205,545 Q1250,590 1235,650" fill="none" stroke="#262423" stroke-width="62" stroke-linecap="round" stroke-linejoin="round"/>
<path d="M652,1075 Q632,1130 700,1205 Q800,1320 1000,1332 Q1150,1340 1250,1400 L1357,1447 Q1330,1330 1205,1245 Q1135,1200 1050,1190 Q850,1180 760,1150 Q695,1125 678,1078 Z" fill="#262423"/>
</g>
<text class="t" x="1059.5" y="443" font-size="31" textLength="51" lengthAdjust="spacingAndGlyphs">Œil</text>
<text class="t" x="1485.4" y="791.3" font-size="31" textLength="100" lengthAdjust="spacingAndGlyphs">Un feu</text>
</g>
<!-- ===== flashlight panel ===== -->
<g id="torch" transform="translate(200,1330) scale(0.29268)">
<polygon points="1018,-269 1583,-65 1583,953 1018,748" fill="#3a8fd2"/>
<polygon points="752,345 1018,225 1018,594 812,575" fill="#f8d187"/>
<polygon points="1018,225 1240,125 1300,620 1018,594" fill="#8aa97a"/>
<ellipse cx="1276" cy="372" rx="207" ry="248" fill="#e8d081"/>
<g fill="none" stroke="#6e6e6e" stroke-width="10" stroke-linecap="butt">
<line x1="752" y1="345" x2="1240" y2="125"/><line x1="812" y1="575" x2="1300" y2="620"/>
<polyline points="962,202 1025,222 1000,285"/><polyline points="982,545 1022,598 972,635"/>
</g>
<polygon points="60,578 550,445 588,585 95,712" fill="#d9dcdb" stroke="#9b9b9b" stroke-width="11" stroke-linejoin="miter"/>
<polygon points="120,562 150,554 185,686 155,694" fill="#6f6f6f"/>
<circle cx="420" cy="553" r="21" fill="#93c655"/>
<polygon points="548,438 752,345 812,575 590,592" fill="#d6d8d7" stroke="#9b9b9b" stroke-width="11" stroke-linejoin="miter"/>
<polygon points="581,512 782,462 806,570 595,586" fill="#aeaeae"/>
</g>
<!-- ===== pinhole panel ===== -->
<g id="pinhole">
<g transform="translate(750,1300) scale(0.20122)">
<!-- candle -->
<path d="M110,458 H165 V1585 H115 Q90,1585 90,1560 V478 Q90,458 110,458 Z" fill="#fcf8f9"/>
<path d="M165,458 H223 Q243,458 243,478 V1560 Q243,1585 218,1585 H165 Z" fill="#dedad2"/>
<rect x="155" y="408" width="25" height="50" fill="#6b6b6b"/>
<path d="M168,70 C200,150 250,240 250,320 C250,375 215,412 168,412 C120,412 85,375 85,320 C85,240 135,150 168,70 Z" fill="#f8b41a"/>
<path d="M168,120 C190,180 228,260 228,325 C228,372 200,405 168,405 C135,405 108,372 108,325 C108,260 145,180 168,120 Z" fill="#fbc52c"/>
<path d="M168,250 C185,290 210,330 210,360 C210,390 190,405 168,405 C146,405 126,390 126,360 C126,330 150,290 168,250 Z" fill="#fadb95"/>
<!-- image candle -->
<path d="M1390,458 H1430 V1048 H1408 Q1390,1048 1390,1030 Z" fill="#dedad2"/>
<path d="M1430,458 H1468 V1030 Q1468,1048 1450,1048 H1430 Z" fill="#fefcfc"/>
<rect x="1420" y="1046" width="15" height="26" fill="#6b6b6b"/>
<path d="M1427,1245 C1410,1200 1385,1160 1385,1118 C1385,1090 1403,1068 1428,1068 C1453,1068 1472,1090 1472,1118 C1472,1160 1445,1200 1427,1245 Z" fill="#f8b41a"/>
<path d="M1427,1215 C1415,1180 1398,1150 1398,1118 C1398,1095 1410,1075 1428,1075 C1446,1075 1458,1095 1458,1118 C1458,1150 1440,1180 1427,1215 Z" fill="#fbc52c"/>
<path d="M1428,1150 C1420,1130 1408,1115 1408,1100 C1408,1085 1416,1075 1428,1075 C1440,1075 1448,1085 1448,1100 C1448,1115 1436,1130 1428,1150 Z" fill="#fadb95"/>
<!-- plate -->
<g stroke="#6c6a67" fill="none">
<line x1="1000" y1="70" x2="1000" y2="802" stroke-width="22"/><line x1="1000" y1="893" x2="1000" y2="1585" stroke-width="22"/>
<polygon points="1299,82 1560,172 1560,1598 1299,1494" stroke-width="24" stroke-linejoin="miter"/>
<polyline points="168,70 1000,850 1425,1245" stroke-width="15" stroke-linecap="round"/>
<polyline points="205,1582 1000,850 1425,460" stroke-width="15" stroke-linecap="round"/>
</g>
<!-- arrowheads -->
<g fill="#6c6a67">
<path d="M676,544 L608,522 L640,512 L652,482 Z"/>
<path d="M654,1172 L632,1236 L620,1205 L588,1196 Z"/>
<path d="M611,1212 L589,1276 L577,1245 L545,1236 Z"/>
</g>
</g>
<text class="t" x="749.5" y="1662.4" font-size="30" textLength="95.6" lengthAdjust="spacingAndGlyphs">Bougie</text>
<text class="t" x="931.5" y="1662.4" font-size="30" textLength="117.5" lengthAdjust="spacingAndGlyphs">Sténopé</text>
<text class="t" x="1085.2" y="1662.4" font-size="30" textLength="79.2" lengthAdjust="spacingAndGlyphs">Écran</text>
<text class="t" x="1080.7" y="1406.3" font-size="30" textLength="130.5" lengthAdjust="spacingAndGlyphs">Image de</text>
<text class="t" x="1080.7" y="1442.2" font-size="30" textLength="131.5" lengthAdjust="spacingAndGlyphs">la bougie</text>
</g>
<!-- ===== shadow panel ===== -->
<g id="shadow">
<circle cx="1331" cy="1456.2" r="12.9" fill="#f8b218"/>
<path d="M1512.1,1426.7 A31.8,31.8 0 0 0 1512.1,1490.3 Z" fill="#fcc200"/>
<path d="M1512.1,1426.7 A31.8,31.8 0 0 1 1512.1,1490.3 Z" fill="#868686"/>
<g fill="none" stroke="#55514f" stroke-width="3.3" stroke-linecap="round">
<line x1="1331" y1="1443.3" x2="1667.7" y2="1406.9"/><line x1="1331" y1="1469.1" x2="1671.7" y2="1513.5"/>
</g>
<g fill="none" stroke="#55514f" stroke-width="3.3" stroke-linecap="butt">
<polyline points="1422.4,1420.4 1439,1431 1425.3,1446.8"/><polyline points="1416.7,1467.7 1431.9,1482 1413.8,1494"/>
</g>
<rect x="1674.6" y="1341" width="5.8" height="232.7" fill="#f9d374"/>
<rect x="1680.3" y="1341" width="4.7" height="232.7" fill="#7b7b7b"/>
<rect x="1674.6" y="1406" width="10.4" height="107.5" fill="#858585"/>
<text class="t" x="1648.2" y="1331.6" font-size="30" textLength="78" lengthAdjust="spacingAndGlyphs">Écran</text>
<text class="t" transform="translate(1731.3,1504.4) rotate(-90)" x="0" y="0" font-size="30" textLength="94.6" lengthAdjust="spacingAndGlyphs">Ombre</text>
<text class="t" x="1282.7" y="1541.5" font-size="30" textLength="96.8" lengthAdjust="spacingAndGlyphs">Source</text>
<text class="t" x="1449.6" y="1541.5" font-size="30" textLength="126.2" lengthAdjust="spacingAndGlyphs">Obstacle</text>
</g>
</svg>
</body>
</html>
